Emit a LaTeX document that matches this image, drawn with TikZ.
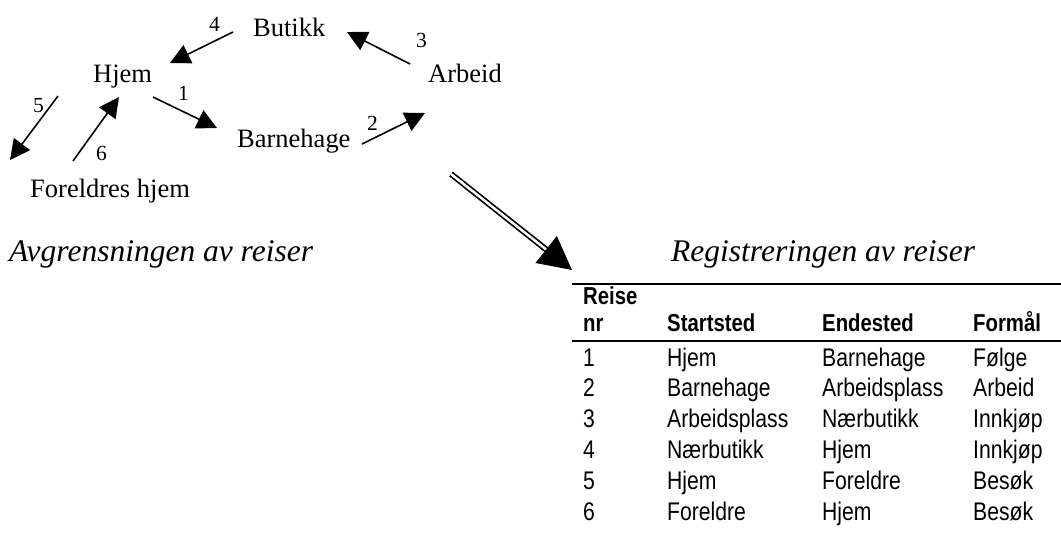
\documentclass[tikz,border=0pt]{standalone}
\usepackage{fontspec}
\setmainfont{Liberation Serif}
\newfontfamily\arialfont[FakeStretch=0.83]{Liberation Sans}
\usetikzlibrary{arrows.meta}
\begin{document}
\begin{tikzpicture}[x=1pt,y=-1pt,
  lbl/.style={anchor=base west,inner sep=0pt,font=\fontsize{26.5}{30}\selectfont},
  num/.style={anchor=base west,inner sep=0pt,font=\fontsize{21.5}{24}\selectfont},
  ttl/.style={anchor=base west,inner sep=0pt,font=\fontsize{31.5}{36}\selectfont\itshape},
  cell/.style={anchor=base west,inner sep=0pt,font=\arialfont\fontsize{25.5}{28}\selectfont},
  hcell/.style={anchor=base west,inner sep=0pt,font=\arialfont\bfseries\fontsize{24.5}{28}\selectfont},
  trip/.style={line width=1.6pt,-{Triangle[length=20pt,width=20pt]}},
  rule/.style={line width=2pt}]
\useasboundingbox (0,0) rectangle (1061,535);

% place labels
\node[lbl] (butikk) at (253,37) {Butikk};
\node[lbl] (hjem) at (93,83) {Hjem};
\node[lbl] (arbeid) at (428,83) {Arbeid};
\node[lbl] (barnehage) at (237,147) {Barnehage};
\node[lbl] (foreldre) at (30,197) {Foreldres hjem};

% trip numbers
\node[num] (n4) at (209,32) {4};
\node[num] (n3) at (416,48) {3};
\node[num] (n1) at (178,100) {1};
\node[num] (n2) at (367,130) {2};
\node[num] (n5) at (33,113) {5};
\node[num] (n6) at (96,160) {6};

% arrow end points
\coordinate (a4s) at (233,32);  \coordinate (a4e) at (170,63);
\coordinate (a3s) at (410,64);  \coordinate (a3e) at (347,32);
\coordinate (a1s) at (153,97);  \coordinate (a1e) at (217,128);
\coordinate (a2s) at (362,144); \coordinate (a2e) at (425,113);
\coordinate (a5s) at (58,96);   \coordinate (a5e) at (10,160);
\coordinate (a6s) at (73,161);  \coordinate (a6e) at (119,97);

\draw[trip] (a4s) -- (a4e);
\draw[trip] (a3s) -- (a3e);
\draw[trip] (a1s) -- (a1e);
\draw[trip] (a2s) -- (a2e);
\draw[trip] (a5s) -- (a5e);
\draw[trip] (a6s) -- (a6e);

% big double arrow
\coordinate (ds) at (451,174);
\coordinate (de) at (572,270);
\draw[double,double distance=2.5pt,line width=1.7pt,-{Triangle[length=33pt,width=34pt]}] (ds) -- (de);

% titles
\node[ttl] (t1) at (9,261) {Avgrensningen av reiser};
\node[ttl] (t2) at (671,261) {Registreringen av reiser};

% table
\coordinate (r1l) at (572,284); \coordinate (r1r) at (1061,284);
\coordinate (r2l) at (572,341); \coordinate (r2r) at (1061,341);
\draw[rule] (r1l) -- (r1r);
\draw[rule] (r2l) -- (r2r);

\node[hcell] (h0) at (583,304) {Reise};
\node[hcell] (h1) at (583,331) {nr};
\node[hcell] (h2) at (667,331) {Startsted};
\node[hcell] (h3) at (822,331) {Endested};
\node[hcell] (h4) at (973,331) {Formål};

\foreach \n/\s/\e/\f [count=\i from 0] in {1/Hjem/Barnehage/Følge,2/Barnehage/Arbeidsplass/Arbeid,3/Arbeidsplass/Nærbutikk/Innkjøp,4/Nærbutikk/Hjem/Innkjøp,5/Hjem/Foreldre/Besøk,6/Foreldre/Hjem/Besøk}{
  \node[cell] (c\i a) at (583,366+30.8*\i) {\n};
  \node[cell] (c\i b) at (667,366+30.8*\i) {\s};
  \node[cell] (c\i c) at (822,366+30.8*\i) {\e};
  \node[cell] (c\i d) at (973,366+30.8*\i) {\f};
}
\end{tikzpicture}
\end{document}
